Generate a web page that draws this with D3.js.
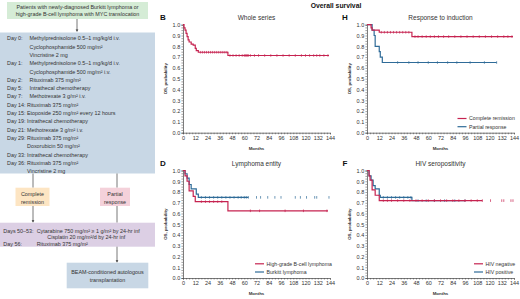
<!DOCTYPE html>
<html>
<head>
<meta charset="utf-8">
<script src="https://d3js.org/d3.v7.min.js"></script>
<style>
  body { margin:0; background:#fff; }
  svg { display:block; font-family:"Liberation Sans", Arial, sans-serif; }
</style>
</head>
<body>
<svg id="fig" width="520" height="299"></svg>
<script>
// ---------- data ----------
const monthTicks = [0,12,24,36,48,60,72,84,96,108,120,132,144];
const probTicks = [0,0.1,0.2,0.3,0.4,0.5,0.6,0.7,0.8,0.9,1.0];

// whole series
const wholeT = [0,1,2,3,4,5,6,8,10,12,13,15,44];
const wholeS = [1,0.97,0.95,0.92,0.89,0.86,0.84,0.82,0.81,0.78,0.76,0.745,0.715];
const wholeCens = [17,19,21,23,25,27,29,31,33,35,37,39,41,43,46,49,52,55,58,60,61,62,63,64,66,70,74,80,86,92,98,104,110,116,120,124,128,131,134,138,142];

// response to induction
const crT = [0,4,5,12,44];
const crS = [1,0.97,0.95,0.93,0.89];
const crCens = [14,17,20,23,26,29,32,35,38,41,47,50,54,58,62,66,70,75,80,86,92,98,104,110,116,122,128,134,138,142];
const prT = [0,5,7,8,12,13,15];
const prS = [1,0.95,0.9,0.8,0.75,0.7,0.65];
const prCens = [30,41,50,60,69,79,88,101,115,127];

// lymphoma entity
const hgT = [0,2,4,6,10,12,44];
const hgS = [1,0.95,0.9,0.81,0.76,0.71,0.625];
const hgCens = [18,22,26,30,34,38,66,75,100,118,141];
const blT = [0,2,4,6,8,13,15];
const blS = [1,0.97,0.93,0.87,0.83,0.78,0.75];
const blCens = [18,22,26,30,34,38,42,46,50,54,57,60,62,64,72,76,83,90,96,110,115,121,129,131,143];

// HIV
const hnT = [0,2,3,5,8,12];
const hnS = [1,0.95,0.91,0.82,0.77,0.72];
const hnCens = [16,20,24,30,36,42,48,54,60,66,72,78,84,90,96,102,108,113,121,132,134,141,143];
const hpT = [0,2,4,6,8,12,13,44];
const hpS = [1,0.95,0.91,0.86,0.83,0.77,0.75,0.72];
const hpCens = [16,20,24,28,32,36,40,43,50,58,66,76,86,96];

// flowchart text
const patientLines = ["Patients with newly-diagnosed Burkitt lymphoma or",
                      "high-grade B-cell lymphoma with MYC translocation"];
const inductionDays = ["Day 0:","","","Day 1:","","Day 2:","Day 5:","Day 7:","Day 14:","Day 15:","Day 19:","Day 21:","Day 29:","","Day 33:","Day 36:",""];
const inductionDrugs = ["Methylprednisolone 0.5\u20131 mg/kg/d i.v.","Cyclophosphamide 500 mg/m\u00b2","Vincristine 2 mg",
  "Methylprednisolone 0.5\u20131 mg/kg/d i.v.","Cyclophosphamide 500 mg/m\u00b2 i.v.","Rituximab 375 mg/m\u00b2",
  "Intrathecal chemotherapy","Methotrexate 3 g/m\u00b2 i.v.","Rituximab 375 mg/m\u00b2","Etoposide 250 mg/m\u00b2 every 12 hours",
  "Intrathecal chemotherapy","Methotrexate 3 g/m\u00b2 i.v.","Rituximab 375 mg/m\u00b2","Doxorubicin 50 mg/m\u00b2",
  "Intrathecal chemotherapy","Rituximab 375 mg/m\u00b2","Vincristine 2 mg"];
const consolDays = ["Days 50\u201353:","","Day 56:"];
const consolDrugs = ["Cytarabine 750 mg/m\u00b2 \u2265 1 g/m\u00b2 by 24-hr inf","Cisplatin 20 mg/m\u00b2/d by 24-hr inf","Rituximab 375 mg/m\u00b2"];

const RED = "#c62350", BLUE = "#2f6b98", TXT = "#333";
const FS = 5.4;

const svg = d3.select("#fig");

// ---------- flowchart ----------
const flow = svg.append("g");
function box(x,y,w,h,fill){
  flow.append("rect").attr("x",x).attr("y",y).attr("width",w).attr("height",h).attr("fill",fill);
}
function vline(x,y1,y2,arrow){
  flow.append("line").attr("x1",x).attr("x2",x).attr("y1",y1).attr("y2",arrow?y2-2:y2)
      .attr("stroke","#555").attr("stroke-width",0.8);
  if(arrow){
    flow.append("path").attr("d",`M${x-1.3},${y2-2.4}L${x+1.3},${y2-2.4}L${x},${y2}Z`).attr("fill","#333");
  }
}
box(7,2,141,17,"#d5ecd6");
patientLines.forEach((t,i)=>{
  flow.append("text").attr("x",77.5).attr("y",8.7+i*7.1).attr("text-anchor","middle")
      .attr("font-size",FS).attr("fill",TXT).text(t);
});
vline(77,19,32,true);

box(0,32.5,155,141,"#c8d7e5");
inductionDrugs.forEach((t,i)=>{
  const y = 40.3+i*8.3;
  let day = inductionDays[i];
  // continuation lines take the indent of the day label above
  let k=i; while(inductionDays[k]==="") k--;
  const dx = inductionDays[k].length>6 ? 27 : 29.5;
  if(day) flow.append("text").attr("x",7).attr("y",y).attr("font-size",FS).attr("fill",TXT).text(day);
  flow.append("text").attr("x",dx).attr("y",y).attr("font-size",FS).attr("fill",TXT).text(t);
});

vline(33,173.5,187.7,false);
vline(117,173.5,187.7,false);
box(15.5,187.7,34,18.3,"#fde5c3");
box(100,187.7,30,18.3,"#f4d1da");
[["Complete","remission",32.5],["Partial","response",115]].forEach(d=>{
  flow.append("text").attr("x",d[2]).attr("y",195.7).attr("text-anchor","middle").attr("font-size",FS).attr("fill",TXT).text(d[0]);
  flow.append("text").attr("x",d[2]).attr("y",203.5).attr("text-anchor","middle").attr("font-size",FS).attr("fill",TXT).text(d[1]);
});
vline(33,206,222.7,true);
vline(117,206,222.7,false);

box(0,222.7,155,24,"#dccfe4");
consolDrugs.forEach((t,i)=>{
  const y = 232.7+i*6.4;
  if(consolDays[i]) flow.append("text").attr("x",3.3).attr("y",y).attr("font-size",FS).attr("fill",TXT).text(consolDays[i]);
  flow.append("text").attr("x",i===1?47.3:36.7).attr("y",y).attr("font-size",FS).attr("fill",TXT).text(t);
});
vline(117,246.7,262.7,true);
box(66.7,262.7,81.6,25.6,"#c8d7e5");
["BEAM-conditioned autologous","transplantation"].forEach((t,i)=>{
  flow.append("text").attr("x",107.5).attr("y",274.1+i*8).attr("text-anchor","middle").attr("font-size",FS).attr("fill",TXT).text(t);
});

// ---------- survival panels ----------
svg.append("text").attr("x",336).attr("y",8.3).attr("text-anchor","middle")
   .attr("font-size",6.8).attr("font-weight","bold").attr("fill","#111").text("Overall survival");

function panel(cfg){
  const x = d3.scaleLinear().domain([0,144]).range([cfg.x0,cfg.x1]);
  const y = d3.scaleLinear().domain([0,1]).range([cfg.y0,cfg.y1]);
  const g = svg.append("g");

  const xa = g.append("g").attr("transform",`translate(0,${cfg.y0})`)
    .call(d3.axisBottom(x).tickValues(d3.range(0,145,3)).tickSize(1.6)
      .tickFormat(d=>monthTicks.includes(d)?d:""));
  const ya = g.append("g").attr("transform",`translate(${cfg.x0},0)`)
    .call(d3.axisLeft(y).tickValues(d3.range(0,1.001,0.025)).tickSize(1.6)
      .tickFormat(d=>probTicks.some(p=>Math.abs(p-d)<1e-6)?d3.format(".1f")(d):""));
  [xa,ya].forEach(a=>{
    a.select(".domain").attr("stroke","#444").attr("stroke-width",0.7);
    a.selectAll(".tick line").attr("stroke","#444").attr("stroke-width",0.5);
    a.selectAll(".tick text").attr("font-size",5.5).attr("fill",TXT).attr("font-family",null);
  });
  xa.selectAll(".tick text").attr("dy","0.71em").attr("y",3);
  ya.selectAll(".tick text").attr("x",-2.8);

  g.append("text").attr("x",(cfg.x0+cfg.x1)/2).attr("y",cfg.y0+16.8).attr("text-anchor","middle")
    .attr("font-size",4.4).attr("font-weight","bold").attr("fill",TXT).text("Months");
  g.append("text").attr("transform",`translate(${cfg.x0-16.5},${(cfg.y0+cfg.y1)/2}) rotate(-90)`)
    .attr("text-anchor","middle").attr("font-size",4.4).attr("font-weight","bold").attr("fill",TXT).text("OS, probability");
  g.append("text").attr("x",(cfg.x0+cfg.x1)/2).attr("y",cfg.y1-5).attr("text-anchor","middle")
    .attr("font-size",6.5).attr("fill",TXT).text(cfg.title);
  g.append("text").attr("x",cfg.x0-cfg.lx).attr("y",cfg.y1-4.5).attr("text-anchor","middle")
    .attr("font-size",8).attr("font-weight","bold").attr("fill","#111").text(cfg.letter);

  cfg.series.forEach(s=>{
    const pts = s.t.map((t,i)=>[t,s.s[i]]);
    pts.push([s.end, s.s[s.s.length-1]]);
    const line = d3.line().x(d=>x(d[0])).y(d=>y(d[1])).curve(d3.curveStepAfter);
    g.append("path").attr("d",line(pts)).attr("fill","none").attr("stroke",s.color).attr("stroke-width",1.2);
    const survAt = m => { let v=1; s.t.forEach((t,i)=>{ if(t<=m) v=s.s[i]; }); return v; };
    g.selectAll(null).data(s.cens).join("line")
      .attr("x1",d=>x(d)).attr("x2",d=>x(d))
      .attr("y1",d=>y(survAt(d))-1.3).attr("y2",d=>y(survAt(d))+1.3)
      .attr("stroke",s.color).attr("stroke-width",0.7);
  });

  if(cfg.legend){
    cfg.series.slice().reverse().forEach((s,i)=>{
      const ly = cfg.y0 - 14.2 + i*8.2;
      g.append("line").attr("x1",cfg.legend).attr("x2",cfg.legend+9).attr("y1",ly).attr("y2",ly)
        .attr("stroke",s.color).attr("stroke-width",1.2);
      g.append("text").attr("x",cfg.legend+11.5).attr("y",ly+1.9).attr("font-size",5.2).attr("fill",TXT).text(s.name);
    });
  }
}

panel({x0:183,x1:330,y0:132.7,y1:24.7,title:"Whole series",letter:"B",lx:20,
  series:[{name:"Whole series",color:RED,t:wholeT,s:wholeS,end:143,cens:wholeCens}]});
panel({x0:367,x1:514,y0:132.7,y1:24.7,title:"Response to induction",letter:"H",lx:22,legend:457.5,
  series:[{name:"Partial response",color:BLUE,t:prT,s:prS,end:127,cens:prCens},
          {name:"Complete remission",color:RED,t:crT,s:crS,end:143,cens:crCens}]});
panel({x0:183,x1:330,y0:278,y1:170.5,title:"Lymphoma entity",letter:"D",lx:20,legend:255,
  series:[{name:"Burkitt lymphoma",color:BLUE,t:blT,s:blS,end:64,cens:blCens},
          {name:"High-grade B-cell lymphoma",color:RED,t:hgT,s:hgS,end:142,cens:hgCens}]});
panel({x0:367,x1:514,y0:278,y1:170.5,title:"HIV seropositivity",letter:"F",lx:22,legend:474,
  series:[{name:"HIV positive",color:BLUE,t:hpT,s:hpS,end:96,cens:hpCens},
          {name:"HIV negative",color:RED,t:hnT,s:hnS,end:113,cens:hnCens}]});
</script>
</body>
</html>
